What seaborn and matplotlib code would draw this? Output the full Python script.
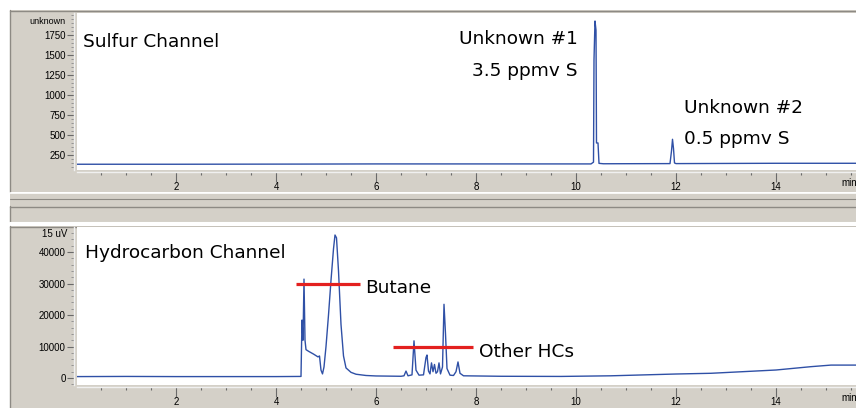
import matplotlib
matplotlib.use("Agg")
import pandas as pd
import matplotlib.pyplot as plt
import seaborn as sns
from matplotlib.patches import Rectangle
from matplotlib.ticker import MultipleLocator, FixedLocator

# Sulfur channel trace (retention time in min, signal in "unknown" units)
sulfur_time = [0.02, 2.0, 4.5, 6.0, 8.0, 10.30, 10.35, 10.36, 10.38, 10.40,
               10.41, 10.44, 10.46, 10.55, 11.88, 11.91, 11.93, 11.95, 11.97, 12.00,
               14.0, 15.6]
sulfur_signal = [134, 134, 136, 138, 138, 138, 160, 1440, 1925, 1810,
                 400, 400, 145, 140, 142, 300, 446, 330, 150, 142,
                 146, 146]

# Hydrocarbon channel trace (retention time in min, signal in uV)
hc_time = [0.02, 1.0, 2.0, 3.0, 4.0, 4.50, 4.52, 4.54, 4.56, 4.58,
           4.60, 4.66, 4.75, 4.84, 4.87, 4.90, 4.93, 4.96, 5.00, 5.05,
           5.10, 5.15, 5.18, 5.21, 5.25, 5.30, 5.35, 5.40, 5.50, 5.60,
           5.80, 6.00, 6.50, 6.56, 6.60, 6.64, 6.72, 6.76, 6.80, 6.86,
           6.95, 7.00, 7.02, 7.05, 7.08, 7.11, 7.14, 7.17, 7.20, 7.23,
           7.26, 7.29, 7.33, 7.36, 7.39, 7.42, 7.48, 7.55, 7.60, 7.64,
           7.68, 7.75, 8.50, 9.70, 10.70, 12.00, 12.70, 13.20, 14.00, 14.70,
           15.10, 15.60]
hc_signal = [450, 500, 450, 450, 450, 500, 18400, 12000, 31400, 12000,
             9000, 8400, 7600, 6700, 7000, 2500, 1300, 3500, 10000, 20000,
             31000, 41000, 45400, 44500, 34000, 17000, 7000, 3200, 1800, 1200,
             800, 650, 550, 700, 2200, 700, 1000, 11800, 2500, 900,
             1000, 6500, 7300, 2200, 1300, 4800, 2000, 4300, 1500, 2000,
             4800, 1300, 3500, 23400, 14000, 3000, 900, 800, 2000, 5100,
             1500, 700, 550, 500, 700, 1270, 1500, 1900, 2540, 3600,
             4100, 4100]

# red marker bars on the hydrocarbon channel: (start, end, level)
butane_bar = [4.40, 5.68, 30000]
other_bar = [6.34, 7.94, 9700]

time_ticks = [2, 4, 6, 8, 10, 12, 14]
sulfur_ticks = [250, 500, 750, 1000, 1250, 1500, 1750]
hc_ticks = [0, 10000, 20000, 30000, 40000]

sulfur_df = pd.DataFrame({"time": sulfur_time, "signal": sulfur_signal})
hc_df = pd.DataFrame({"time": hc_time, "signal": hc_signal})

sns.set_style("white")
plt.rcParams["font.family"] = ["DejaVu Sans"]

GRAY = "#d4d0c8"
DARK = "#8d8a84"
TRACE = "#2f50a6"
RED = "#e3201f"
SMALL_FONT = ["Liberation Sans", "DejaVu Sans"]

fig = plt.figure(figsize=(8.56, 4.08), dpi=100)
fig.patch.set_facecolor("white")

# window chrome drawn in pixel units behind the plots
bg = fig.add_axes([0, 0, 1, 1], zorder=-5)
bg.set_xlim(0, 856)
bg.set_ylim(408, 0)
bg.axis("off")
for x, y, w, h in [(10, 10, 846, 182), (10, 193, 846, 13), (10, 206, 846, 16), (10, 226, 846, 182)]:
    bg.add_patch(Rectangle((x, y), w, h, facecolor=GRAY, edgecolor="none"))
bg.plot([10, 856], [10.5, 10.5], color=DARK, lw=1)
bg.plot([10.5, 10.5], [10, 192], color=DARK, lw=1)
bg.plot([10, 856], [192.5, 192.5], color="white", lw=1.2)
bg.plot([10, 856], [198.5, 198.5], color=DARK, lw=0.8)
bg.plot([10, 856], [206.5, 206.5], color=DARK, lw=1)
bg.plot([10.5, 10.5], [206, 222], color=DARK, lw=1)
bg.plot([10, 856], [222.5, 222.5], color="white", lw=1.5)
bg.plot([10, 856], [226.5, 226.5], color=DARK, lw=1)
bg.plot([10.5, 10.5], [226, 408], color=DARK, lw=1)

ax1 = fig.add_axes([77 / 856, 1 - 170 / 408, 779 / 856, 157 / 408])
ax2 = fig.add_axes([77 / 856, 1 - 385 / 408, 779 / 856, 158 / 408])

sns.lineplot(data=sulfur_df, x="time", y="signal", ax=ax1, color=TRACE,
             linewidth=1.0, estimator=None, sort=False)
sns.lineplot(data=hc_df, x="time", y="signal", ax=ax2, color=TRACE,
             linewidth=1.0, estimator=None, sort=False)

for bar in [butane_bar, other_bar]:
    ax2.hlines(bar[2], bar[0], bar[1], color=RED, linewidth=2.3, zorder=3)

ax1.set_ylim(62, 2025)
ax2.set_ylim(-2220, 47940)
ax1.yaxis.set_major_locator(FixedLocator(sulfur_ticks))
ax1.yaxis.set_minor_locator(MultipleLocator(50))
ax2.yaxis.set_major_locator(FixedLocator(hc_ticks))
ax2.yaxis.set_minor_locator(MultipleLocator(2000))

for ax in [ax1, ax2]:
    ax.set_xlim(0.02, 15.6)
    ax.set_facecolor("white")
    ax.xaxis.set_major_locator(FixedLocator(time_ticks))
    ax.xaxis.set_minor_locator(MultipleLocator(0.5))
    ax.set_xlabel("")
    ax.set_ylabel("")
    for side in ["top", "right"]:
        ax.spines[side].set_visible(False)
    ax.spines["left"].set_position(("outward", 2.2))
    ax.spines["bottom"].set_position(("outward", 1.4))
    ax.spines["left"].set_color("#f0f0f0")
    ax.spines["bottom"].set_color("#f0f0f0")
    ax.spines["left"].set_linewidth(1.0)
    ax.spines["bottom"].set_linewidth(1.0)
    ax.tick_params(axis="x", which="major", direction="out", length=7, width=0.8,
                   color="#6a6a6a", pad=0.5, labelsize=7, bottom=True)
    ax.tick_params(axis="x", which="minor", direction="out", length=2.2, width=0.8,
                   color="#6a6a6a", bottom=True)
    ax.tick_params(axis="y", which="major", direction="out", length=5, width=0.8,
                   color="#6a6a6a", pad=1, labelsize=7, left=True)
    ax.tick_params(axis="y", which="minor", direction="out", length=2.2, width=0.6,
                   color="#8a8a8a", left=True)
    for lab in ax.get_xticklabels() + ax.get_yticklabels():
        lab.set_fontfamily(SMALL_FONT)
        lab.set_color("black")
    ax.text(15.46, -0.085, "min", transform=ax.get_xaxis_transform(), ha="center",
            va="center", fontsize=7, family=SMALL_FONT, color="black")

# axis unit labels in the top-left corner
ax1.text(-0.0154, 0.943, "unknown", transform=ax1.transAxes, ha="right", va="center",
         fontsize=6.5, family=SMALL_FONT, color="black")
ax2.text(-0.0128, 0.956, "15 uV", transform=ax2.transAxes, ha="right", va="center",
         fontsize=7, family=SMALL_FONT, color="black")

# channel titles and peak annotations
big = 13.3
ax1.text(0.14, 1604, "Sulfur Channel", fontsize=big, va="baseline", color="black")
ax1.text(10.04, 1637, "Unknown #1", fontsize=big, ha="right", va="baseline", color="black")
ax1.text(10.04, 1237, "3.5 ppmv S", fontsize=big, ha="right", va="baseline", color="black")
ax1.text(12.16, 775, "Unknown #2", fontsize=big, va="baseline", color="black")
ax1.text(12.16, 387, "0.5 ppmv S", fontsize=big, va="baseline", color="black")

ax2.text(0.18, 38100, "Hydrocarbon Channel", fontsize=big, va="baseline", color="black")
ax2.text(5.78, 27000, "Butane", fontsize=big, va="baseline", color="black")
ax2.text(8.06, 6670, "Other HCs", fontsize=big, va="baseline", color="black")

fig.savefig("out.png", dpi=100)
